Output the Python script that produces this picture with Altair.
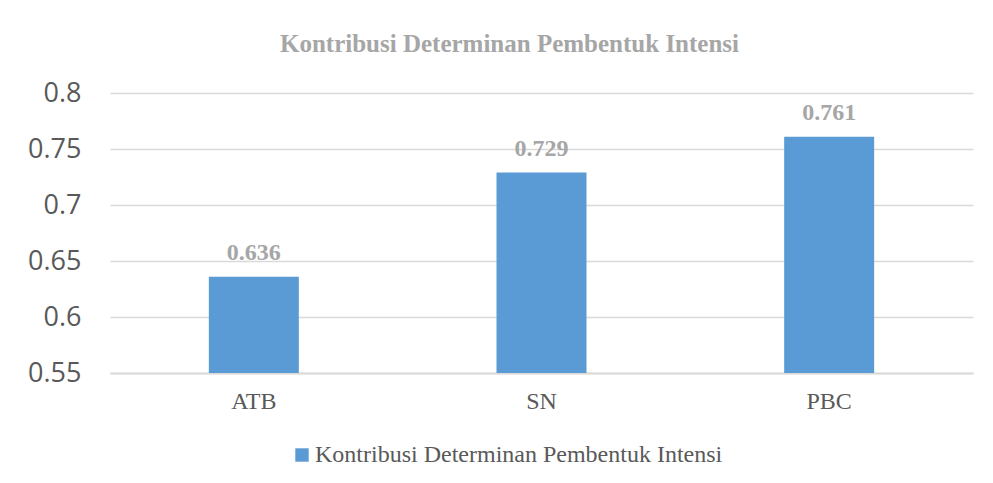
import altair as alt
import pandas as pd

categories = ["ATB", "SN", "PBC"]
values = [0.636, 0.729, 0.761]
series_name = "Kontribusi Determinan Pembentuk Intensi"
y_ticks = [0.55, 0.6, 0.65, 0.7, 0.75, 0.8]

df = pd.DataFrame({"cat": categories, "val": values, "series": [series_name] * len(categories)})

base = alt.Chart(df)

bars = base.mark_bar(size=90, color="#5b9bd5").encode(
    x=alt.X("cat:N", sort=categories, title=None,
            scale=alt.Scale(paddingInner=0, paddingOuter=0),
            axis=alt.Axis(labelAngle=0, labelFont="Liberation Serif", labelFontSize=24,
                          labelColor="#595959", labelPadding=16, ticks=False,
                          domain=True, domainColor="#d9d9d9", domainWidth=2)),
    y=alt.Y("val:Q", title=None,
            scale=alt.Scale(domain=[0.55, 0.8], nice=False, zero=False, clamp=True),
            axis=alt.Axis(values=y_ticks, labelExpr="format(datum.value, '')", labelFont="Open Sans",
                          labelFontSize=27, labelColor="#595959", labelPadding=29,
                          ticks=False, domain=False, grid=True, gridColor="#d9d9d9",
                          gridWidth=1.3)),
    fill=alt.Fill("series:N", scale=alt.Scale(range=["#5b9bd5"]),
                  legend=alt.Legend(title=None, orient="none", legendX=180, legendY=350,
                                    symbolType="square", symbolSize=180,
                                    labelFont="Liberation Serif", labelFontSize=24,
                                    labelColor="#595959", symbolStrokeWidth=0,
                                    labelOffset=1, labelLimit=0)),
)

labels = base.mark_text(font="Liberation Serif", fontWeight="bold", fontSize=24,
                        color="#a6a6a6", baseline="alphabetic", dy=-17).encode(
    x=alt.X("cat:N", sort=categories),
    y=alt.Y("val:Q"),
    text=alt.Text("val:Q", format=".3f"),
)

chart = (bars + labels).properties(
    width=863, height=280,
    background="white",
    title=alt.Title(series_name, font="Liberation Serif", fontWeight="bold", fontSize=25,
                    color="#a6a6a6", anchor="middle", dx=-32, offset=22),
    padding={"left": 102, "top": 85, "right": 10, "bottom": 100},
    autosize=alt.AutoSizeParams(type="none"),
).configure_view(stroke=None).configure_legend(labelFont="Liberation Serif", labelLimit=0)

chart.save("out.html", embed_options={"renderer": "svg", "actions": False})
